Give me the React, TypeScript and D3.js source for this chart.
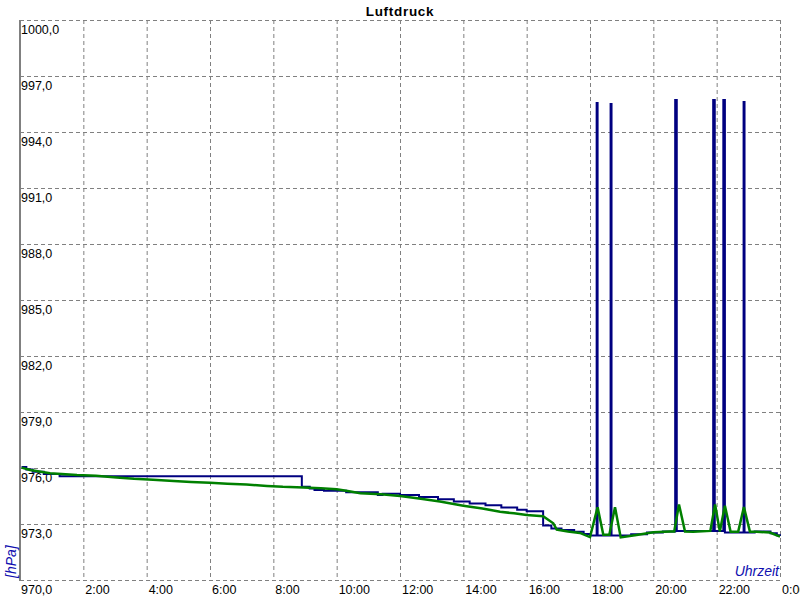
import React from "react";
import * as d3 from "d3";

const yTicks = [970, 973, 976, 979, 982, 985, 988, 991, 994, 997, 1000];
const xTicks = [2, 4, 6, 8, 10, 12, 14, 16, 18, 20, 22, 24];
const xTickLabels = ["2:00", "4:00", "6:00", "8:00", "10:00", "12:00", "14:00", "16:00", "18:00", "20:00", "22:00", "0:00"];

// blue series (step after): hours, hPa
const blueTimes = [0.05, 0.2, 0.4, 0.75, 1.25, 8.9, 9.15, 9.3, 9.6, 10.3, 11.3, 11.45, 12.0, 12.6, 13.2, 13.7, 14.2, 14.7, 15.2, 15.7, 16.0, 16.52, 16.78, 17.1, 17.5, 17.8, 18.0, 18.21, 18.24, 18.65, 18.68, 19.3, 19.8, 20.3, 20.69, 20.74, 21.89, 21.94, 22.21, 22.26, 22.85, 22.88, 23.2, 23.7, 23.9, 24.0];
const blueValues = [976.05, 975.92, 975.8, 975.68, 975.56, 975.0, 974.9, 974.82, 974.78, 974.7, 974.55, 974.62, 974.55, 974.45, 974.32, 974.2, 974.1, 974.0, 973.88, 973.76, 973.68, 972.92, 972.76, 972.68, 972.58, 972.47, 972.38, 995.55, 972.38, 995.5, 972.38, 972.45, 972.55, 972.6, 995.71, 972.62, 995.71, 972.62, 995.71, 972.55, 995.61, 972.55, 972.6, 972.5, 972.4, 972.36];

// green series (linear)
const greenTimes = [0.05, 0.32, 0.95, 1.8, 2.4, 3.05, 3.6, 4.2, 4.85, 5.4, 6.0, 6.55, 7.15, 7.8, 8.3, 8.95, 9.5, 10.0, 10.3, 10.75, 11.4, 12.0, 12.6, 13.26, 14.0, 14.6, 15.16, 15.6, 16.0, 16.52, 16.84, 16.95, 17.3, 17.68, 18.0, 18.24, 18.42, 18.61, 18.79, 18.97, 19.47, 20.0, 20.53, 20.66, 20.81, 21.0, 21.26, 21.8, 21.95, 22.1, 22.26, 22.44, 22.68, 22.86, 23.05, 23.26, 23.68, 24.0];
const greenValues = [976.02, 975.89, 975.72, 975.63, 975.59, 975.49, 975.42, 975.37, 975.3, 975.25, 975.21, 975.16, 975.11, 975.04, 974.99, 974.95, 974.91, 974.86, 974.78, 974.65, 974.6, 974.5, 974.36, 974.2, 973.98, 973.83, 973.66, 973.57, 973.48, 973.42, 973.04, 972.7, 972.6, 972.52, 972.3, 973.9, 972.42, 972.42, 973.9, 972.28, 972.41, 972.56, 972.6, 972.6, 974.05, 972.6, 972.59, 972.63, 974.05, 972.6, 973.98, 972.59, 972.59, 973.91, 972.59, 972.59, 972.54, 972.32];

const W = 800, H = 600;
const L = 20, R = 780, T = 20, B = 580;
const NARROW = "'Liberation Sans Narrow', 'Arial Narrow', 'Liberation Sans', Arial, sans-serif";

export default function App() {
  const x = d3.scaleLinear().domain([0, 24]).range([L, R]);
  const y = d3.scaleLinear().domain([970, 1000]).range([B, T]);

  const blueData = blueTimes.map((t, i) => [t, blueValues[i]] as [number, number]);
  const greenData = greenTimes.map((t, i) => [t, greenValues[i]] as [number, number]);

  const blueLine = d3.line<[number, number]>().x(d => x(d[0])).y(d => y(d[1])).curve(d3.curveStepAfter);
  const greenLine = d3.line<[number, number]>().x(d => x(d[0])).y(d => y(d[1]));

  return (
    <svg width={W} height={H} style={{ position: "absolute", left: 0, top: 0, background: "#fff" }}>
      <rect x={0} y={0} width={W} height={H} fill="#fff" />
      {yTicks.map(v => (
        <line key={"h" + v} x1={L} x2={R} y1={y(v) + 0.5} y2={y(v) + 0.5} stroke="#808080" strokeWidth={1} strokeDasharray="4,3" />
      ))}
      {xTicks.map(t => (
        <line key={"v" + t} x1={x(t) + 0.5} x2={x(t) + 0.5} y1={T} y2={B} stroke="#808080" strokeWidth={1} strokeDasharray="4,3" />
      ))}
      <line x1={L} x2={L} y1={T} y2={B + 1} stroke="#808080" strokeWidth={2} />
      {yTicks.map(v => (
        <text key={"yl" + v} x={L + 1} y={y(v) + 13.5} fontFamily={NARROW} fontSize={12.5} fill="#000">
          {v.toFixed(1).replace(".", ",")}
        </text>
      ))}
      {xTicks.map((t, i) => (
        <text key={"xl" + t} x={x(t) + 2} y={594} fontFamily={NARROW} fontSize={12.5} fill="#000">
          {xTickLabels[i]}
        </text>
      ))}
      <path d={blueLine(blueData) || ""} fill="none" stroke="#000080" strokeWidth={2} />
      <path d={greenLine(greenData) || ""} fill="none" stroke="#008000" strokeWidth={2.5} />
      <text x={400} y={15.5} textAnchor="middle" fontFamily="'Liberation Sans', Arial, sans-serif" fontWeight="bold" fontSize={13.5} letterSpacing={0.7} fill="#000">
        Luftdruck
      </text>
      <text transform="translate(16,578) rotate(-90)" fontFamily={NARROW} fontStyle="italic" fontSize={14} fill="#1010b0">
        [hPa]
      </text>
      <text x={779} y={575.5} textAnchor="end" fontFamily={NARROW} fontStyle="italic" fontSize={14} fill="#1010b0">
        Uhrzeit
      </text>
    </svg>
  );
}
